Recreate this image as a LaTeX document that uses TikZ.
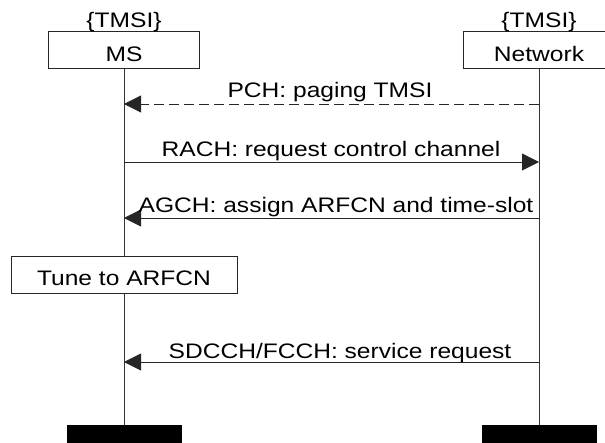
\documentclass[tikz,border=0pt]{standalone}
\usepackage{fontspec}
\setmainfont{Liberation Sans}[FakeStretch=1.17]
\usetikzlibrary{arrows.meta}
\begin{document}
\begin{tikzpicture}[x=1pt,y=-1pt,
  font=\fontsize{21}{24}\selectfont,
  actor/.style={draw=black!85, line width=0.8pt, minimum width=151pt, minimum height=37pt, inner sep=0pt, anchor=north},
  endbar/.style={fill=black, minimum width=115pt, minimum height=18pt, inner sep=0pt, anchor=north},
  life/.style={draw=black!80, line width=0.8pt},
  msg/.style={draw=black!85, line width=0.8pt, -{Triangle[length=17pt,width=17pt]}},
  reply/.style={msg, dash pattern=on 10pt off 5pt},
  lbl/.style={anchor=base, inner sep=0pt}]
\useasboundingbox (0,0) rectangle (605,443);
% instances
\node[actor] (ms) at (124,31) {};
\node[actor] (net) at (539,31) {};
\node[lbl] (msname) at (124,61.5) {MS};
\node[lbl] (netname) at (539,61.5) {Network};
\node[lbl] (mstag) at (124,28) {\{TMSI\}};
\node[lbl] (nettag) at (539,28) {\{TMSI\}};
% end of instances
\node[endbar] (msend) at (124,425) {};
\node[endbar] (netend) at (539,425) {};
% lifelines
\draw[life] (ms.south) -- (msend.north);
\draw[life] (net.south) -- (netend.north);
% message points on the lifelines
\coordinate (m1a) at (124,104); \coordinate (m1b) at (539,104);
\coordinate (m2a) at (124,162); \coordinate (m2b) at (539,162);
\coordinate (m3a) at (124,218); \coordinate (m3b) at (539,218);
\coordinate (m4a) at (124,362); \coordinate (m4b) at (539,362);
% messages
\draw[reply] (m1b) -- (m1a);
\draw[msg] (m2a) -- (m2b);
\draw[msg] (m3b) -- (m3a);
\draw[msg] (m4b) -- (m4a);
\node[lbl] (l1) at (330,98) {PCH: paging TMSI};
\node[lbl] (l2) at (331,157) {RACH: request control channel};
\node[lbl] (l3) at (336,213) {AGCH: assign ARFCN and time-slot};
\node[lbl] (l4) at (340,359) {SDCCH/FCCH: service request};
% local action
\node[draw=black!85, fill=white, line width=0.8pt, minimum width=226pt, minimum height=37pt, inner sep=0pt] (tune) at (124.5,274.5) {};
\node[lbl] (tunetext) at (124,286) {Tune to ARFCN};
\end{tikzpicture}
\end{document}
